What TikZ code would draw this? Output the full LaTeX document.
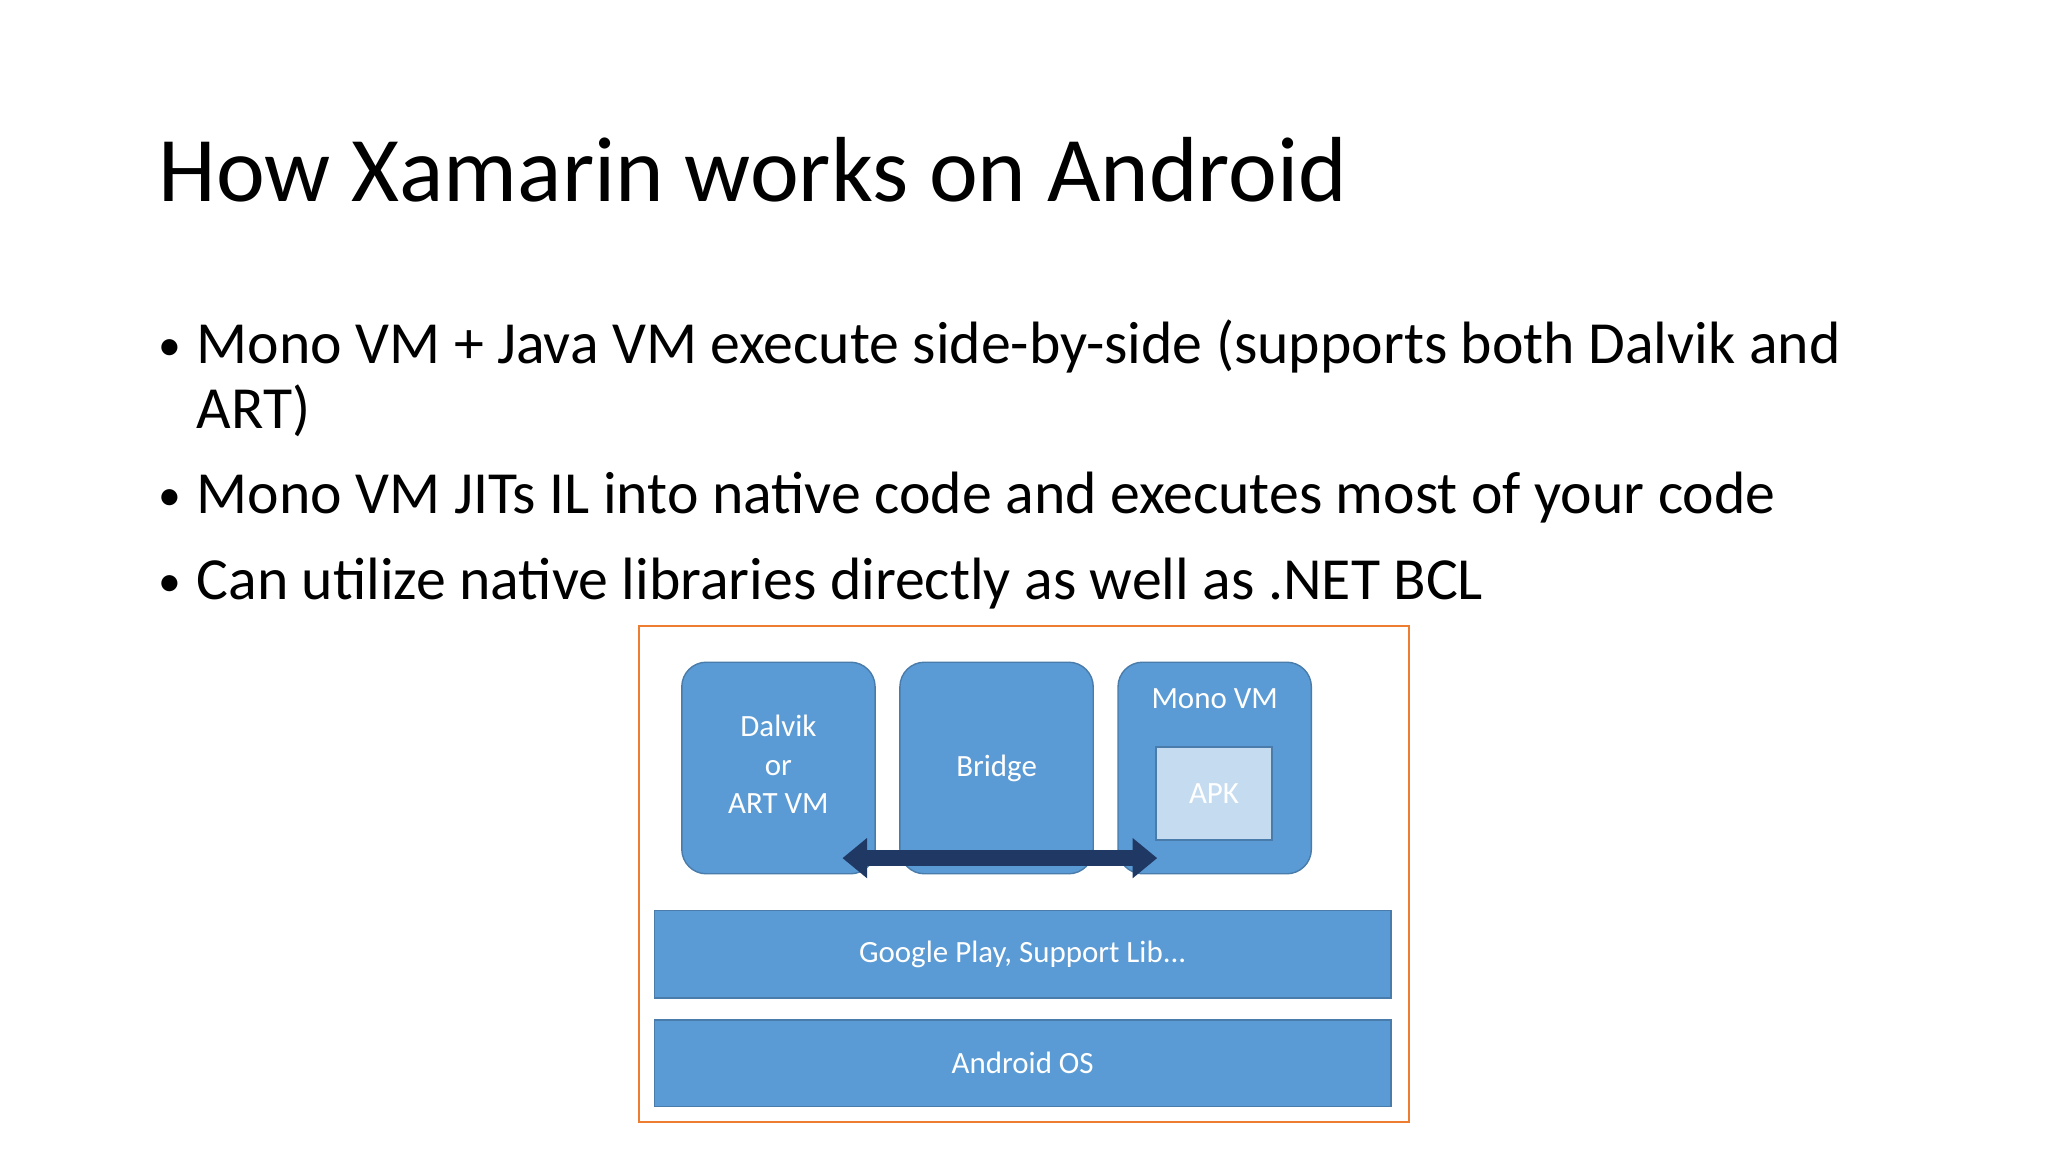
\documentclass[tikz,border=0pt]{standalone}
\usepackage{fontspec}
\setmainfont{Carlito}
\usetikzlibrary{fit, arrows.meta}
\definecolor{boxblue}{HTML}{5B9BD5}
\definecolor{apkblue}{HTML}{C5DCF0}
\definecolor{navy}{HTML}{1F3864}
\definecolor{frame}{HTML}{ED7D31}
\begin{document}
\begin{tikzpicture}
      [
        x=0.01306cm, y=-0.01306cm,
        vmbox/.style={fill=boxblue, draw=boxblue!80!black, rounded corners=7pt, inner sep=0pt},
        layer/.style={fill=boxblue, draw=boxblue!80!black, inner sep=0pt},
        lbl/.style={text=white, font=\fontsize{8.8}{10}\selectfont, align=center},
        bullet/.style={anchor=base west, font=\fontsize{17}{20}\selectfont, inner sep=0pt}
      ]
      \useasboundingbox (0,0) rectangle (1568,882);
      % title
      \node [anchor=base west, inner sep=0pt, font=\fontsize{26.3}{32}\selectfont] (title) at (121,154) {How Xamarin works on Android};
      % bullets
      \foreach \y/\t [count=\i] in {278/{Mono VM + Java VM execute side-by-side (supports both Dalvik and},
          393/{Mono VM JITs IL into native code and executes most of your code},
          459/{Can utilize native libraries directly as well as .NET BCL}} {
          \node [bullet, font=\fontsize{13}{15}\selectfont] (dot\i) at (121,\y-2) {\textbullet};
          \node [bullet] (item\i) at (150,\y) {\t};
      }
      \node [bullet] (item1b) at (150,328) {ART)};
      % diagram frame
      \draw [frame, line width=0.6pt] (489,479) rectangle (1079,859);
      % virtual machines
      \node [vmbox, fit={(522,507) (670,669)}] (dalvik) {};
      \node [lbl] at ([yshift=1pt]dalvik.center) {Dalvik\\[1pt]or\\[1pt]ART VM};
      \node [vmbox, fit={(689,507) (837,669)}] (bridge) {};
      \node [lbl] at (bridge.center) {Bridge};
      \node [vmbox, fit={(856,507) (1004,669)}] (mono) {};
      \node [lbl, anchor=north] at (mono.north |- 0,518) {Mono VM};
      \node [fill=apkblue, draw=boxblue!80!black, inner sep=0pt, fit={(885,572) (974,643)}] (apk) {};
      \node [lbl] at (apk.center) {APK};
      % bridge arrow
      \coordinate (left) at (645,657);
      \coordinate (right) at (886,657);
      \draw [navy, line width=4.5pt, {Triangle[length=7pt,width=11pt]}-{Triangle[length=7pt,width=11pt]}] (left) -- (right);
      % layers
      \node [layer, fit={(501,697) (1065,764)}] (play) {};
      \node [lbl] at (play.center) {Google Play, Support Lib...};
      \node [layer, fit={(501,781) (1065,847)}] (os) {};
      \node [lbl] at (os.center) {Android OS};
    \end{tikzpicture}
\end{document}
